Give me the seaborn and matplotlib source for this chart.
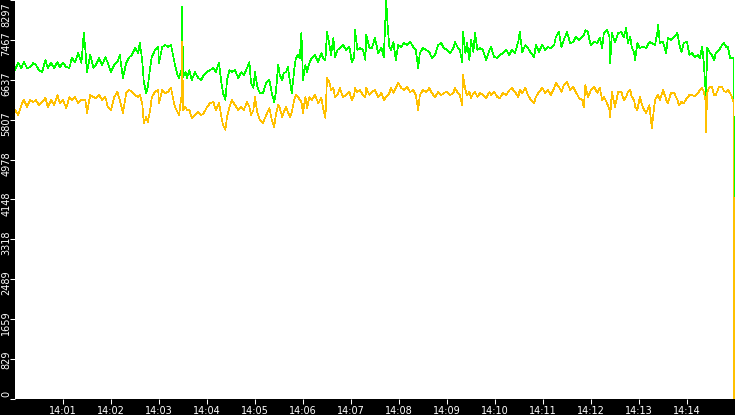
import numpy as np
import pandas as pd
import seaborn as sns
import matplotlib
matplotlib.use("Agg")
import matplotlib.pyplot as plt
from matplotlib.transforms import ScaledTranslation

# seconds after 14:00:00
secs = [0, 4, 8, 11, 15, 19, 23, 26, 30, 34,
        38, 41, 45, 49, 53, 56, 60, 64, 68, 71,
        75, 79, 83, 86, 88, 90, 94, 98, 101, 105,
        109, 113, 116, 120, 124, 128, 131, 135, 139, 143,
        146, 150, 154, 156, 159, 161, 164, 166, 169, 171,
        175, 179,
        180, 184, 188, 191, 195, 198, 200, 203, 205, 208,
        209, 210, 213, 215, 218, 221, 225, 229, 233, 236,
        240, 244, 248, 251, 255, 258, 260, 263, 265, 268,
        271, 275, 279, 283, 286, 290, 293, 295, 298, 300,
        303, 306, 310, 314, 318, 321, 324, 326, 329, 331,
        334, 336, 339, 341, 344, 346, 349, 351, 354, 356,
        358,
        360, 363, 365, 368, 371, 375, 379, 383, 385, 388,
        390, 393, 395, 398, 400, 403, 406, 410, 414, 418,
        421, 424, 425, 428, 431, 435, 438, 439, 443, 446,
        450, 454, 458, 461, 464, 466, 468, 470, 473, 476,
        479, 483, 486, 490, 494, 498, 501, 504, 506, 510,
        514, 518, 521, 525, 529, 533, 536,
        540, 544, 548, 550, 553, 556, 559, 560, 563, 565,
        568, 570, 573, 575, 578, 581, 585, 589, 593, 595,
        599, 603, 606, 610, 614, 618, 621, 625, 629, 631,
        634, 638, 641, 645, 649, 651, 655, 659, 663, 666,
        670, 674, 676, 680, 683, 686, 690, 694, 698, 701,
        705, 709, 711, 713, 716, 719,
        720, 724, 728, 731, 734, 736, 740, 743, 744, 746,
        750, 754, 758, 761, 764, 766, 769, 771, 774, 775,
        778, 781, 785, 789, 793, 796, 800, 803, 804, 806,
        810, 813, 814, 816, 820, 824, 828, 830, 833, 836,
        840, 843, 846, 850, 854, 856, 859, 861, 863, 864,
        865, 868, 871, 874, 876, 880, 884, 886, 889, 891,
        894, 896, 898, 899]

green_vals = [6841, 6987, 6883, 7008, 6883, 6904, 6987, 6945, 6841, 6800,
              7049, 6883, 6987, 6883, 7008, 6904, 6987, 6904, 6883, 7091,
              7008, 7195, 6987, 7611, 7257, 6800, 7153, 6883, 6945, 7091,
              6945, 7112, 6987, 6800, 6945, 7008, 7153, 6675, 6987, 7112,
              7153, 7299, 7195, 7403, 7049, 6592, 6363, 6488, 6904, 7112,
              7257, 7320,
              6987, 7320, 7361, 7320, 7361, 7112, 6945, 6737, 6675, 6841,
              8151, 6696, 6800, 6675, 6841, 6633, 6800, 6675, 6633, 6737,
              6800, 6841, 6883, 6800, 6987, 6571, 6363, 6218, 6633, 6841,
              6800, 6841, 6675, 6800, 6737, 6883, 7008, 6571, 6467, 6800,
              6488, 6363, 6363, 6571, 6633, 6363, 6176, 6363, 6945, 6737,
              6633, 6779, 6800, 6904, 6571, 6363, 6841, 7091, 7153, 7091,
              7611,
              6633, 6945, 6800, 6987, 7091, 7153, 7008, 7195, 7091, 7049,
              7632, 7361, 7153, 7507, 7112, 7257, 7299, 7361, 7257, 7320,
              7008, 7112, 7673, 7257, 7299, 7257, 7049, 7569, 7299, 7299,
              7507, 7195, 7299, 7112, 8297, 7714, 7320, 7257, 7424, 7049,
              7361, 7320, 7403, 7361, 7424, 7320, 7257, 6883, 7195, 7299,
              7257, 7216, 7091, 7153, 7361, 7403, 7299,
              7257, 7195, 7299, 7424, 7320, 7257, 7008, 7632, 7195, 7403,
              7049, 7465, 7216, 7611, 7257, 7299, 7257, 7049, 7257, 7320,
              7112, 7091, 7153, 7195, 7257, 7153, 7257, 7195, 7424, 7632,
              7216, 7361, 7299, 7195, 7112, 7361, 7216, 7361, 7257, 7320,
              7299, 7361, 7528, 7632, 7320, 7465, 7632, 7403, 7424, 7528,
              7465, 7528, 7569, 7673, 7632, 7403,
              7361, 7424, 7403, 7507, 7299, 7611, 7673, 7528, 6987, 7611,
              7424, 7611, 7632, 7528, 7714, 7403, 7528, 7320, 7195, 7049,
              7403, 7299, 7320, 7299, 7424, 7403, 7361, 7632, 7777, 7403,
              7424, 7257, 7195, 7507, 7465, 7528, 7611, 7403, 7216, 7403,
              7424, 7153, 7195, 7112, 7153, 7091, 7320, 6987, 6488, 6218,
              7299, 7216, 7153, 7049, 7195, 7257, 7361, 7403, 7320, 7320,
              7091, 7091, 7091, 3306]

yellow_vals = [6010, 5906, 6113, 6218, 6072, 6218, 6176, 6218, 6113, 6176,
               6259, 6072, 6218, 6113, 6321, 6155, 6218, 6051, 6280, 6218,
               6280, 6155, 6218, 6218, 6218, 5947, 6321, 6280, 6259, 6321,
               6218, 6280, 6072, 6010, 6280, 6384, 6218, 5947, 6363, 6425,
               6384, 6321, 6280, 6321, 6155, 5739, 5864, 5760, 6010, 6280,
               6384, 6425,
               6155, 6425, 6363, 6384, 6467, 6218, 6072, 5968, 5906, 6280,
               7424, 6010, 6072, 6010, 6010, 5843, 5906, 5968, 5906, 5947,
               6072, 6155, 6176, 6010, 6155, 5864, 5698, 5594, 5864, 6072,
               6218, 6113, 6010, 6072, 6010, 6176, 6072, 5906, 6010, 6280,
               5947, 5802, 5739, 5906, 6051, 5802, 5656, 5906, 6113, 6051,
               5864, 5968, 6072, 5968, 5864, 5968, 6218, 6321, 6280, 6218,
               6176,
               5947, 6280, 6051, 6280, 6218, 6321, 6155, 6259, 6051, 5843,
               6675, 6592, 6425, 6467, 6280, 6321, 6467, 6280, 6321, 6384,
               6218, 6321, 6467, 6384, 6425, 6321, 6280, 6467, 6321, 6384,
               6425, 6280, 6363, 6218, 6280, 6321, 6363, 6467, 6363, 6467,
               6571, 6467, 6425, 6488, 6384, 6425, 6321, 6010, 6321, 6425,
               6384, 6467, 6363, 6280, 6384, 6321, 6363,
               6384, 6321, 6363, 6467, 6384, 6321, 6113, 6737, 6425, 6321,
               6384, 6259, 6363, 6384, 6280, 6363, 6321, 6259, 6384, 6321,
               6384, 6280, 6259, 6363, 6321, 6425, 6467, 6384, 6280, 6425,
               6363, 6467, 6321, 6218, 6155, 6280, 6384, 6467, 6363, 6425,
               6321, 6467, 6571, 6488, 6384, 6529, 6592, 6425, 6488, 6384,
               6259, 6218, 6072, 6529, 6280, 6384,
               6425, 6488, 6363, 6467, 6218, 6280, 6155, 6010, 5864, 6384,
               6072, 6384, 6384, 6218, 6280, 6384, 6425, 6280, 6218, 6072,
               6010, 6280, 6051, 5947, 6113, 5635, 6218, 6301, 6321, 6218,
               6425, 6280, 6218, 6155, 6363, 6363, 6218, 6113, 6176, 6155,
               6259, 6321, 6321, 6301, 6363, 6425, 6467, 6384, 6218, 5552,
               6363, 6488, 6488, 6321, 6321, 6488, 6488, 6405, 6384, 6425,
               6363, 6280, 6176, 0]

y_tick_labels = ["0", "829", "1659", "2489", "3318", "4148",
                 "4978", "5807", "6637", "7467", "8297"]
x_tick_labels = ["14:01", "14:02", "14:03", "14:04", "14:05", "14:06", "14:07",
                 "14:08", "14:09", "14:10", "14:11", "14:12", "14:13", "14:14"]

ymax = 8297.1
start = pd.Timestamp("2021-01-01 14:00:00")
times = start + pd.to_timedelta(secs, unit="s")
n = len(secs)
df = pd.DataFrame({
    "time": list(times) * 2,
    "value": green_vals + yellow_vals,
    "series": ["green"] * n + ["yellow"] * n,
})

sns.set_style("white")
plt.rcParams["font.family"] = ["DejaVu Sans"]

fig = plt.figure(figsize=(7.35, 4.15), dpi=100, facecolor="black")
ax = fig.add_axes([15 / 735, 16 / 415, 720 / 735, 399 / 415])
ax.set_facecolor("white")

sns.lineplot(data=df, x="time", y="value", hue="series",
             palette={"green": "#00ff00", "yellow": "#ffc000"},
             linewidth=0.5, estimator=None, legend=False, ax=ax,
             antialiased=False)

ax.set_xlim(start, start + pd.Timedelta(minutes=15))
ax.set_ylim(0, ymax)
for s in ax.spines.values():
    s.set_visible(False)
ax.grid(False)
ax.set_xlabel("")
ax.set_ylabel("")

ax.set_xticks([start + pd.Timedelta(minutes=m) for m in range(1, 15)])
ax.set_xticklabels(x_tick_labels)
ax.set_yticks(np.linspace(0, ymax, 11))
ax.set_yticklabels(y_tick_labels, rotation=90, rotation_mode="anchor",
                   ha="right", va="center")

ax.tick_params(axis="both", colors="white", labelsize=7, length=3.6,
               width=0.75, direction="out", left=True, bottom=True)
ax.tick_params(axis="x", pad=1.2)
ax.tick_params(axis="y", pad=2.6)

# labels sit a little above their tick, the top one is pushed down to fit
shift = ScaledTranslation(0, 0.085, fig.dpi_scale_trans)
top_shift = ScaledTranslation(0, -0.02, fig.dpi_scale_trans)
labels = ax.get_yticklabels()
for lab in labels[:-1]:
    lab.set_transform(lab.get_transform() + shift)
labels[-1].set_transform(labels[-1].get_transform() + top_shift)

fig.savefig("out.png", dpi=100, facecolor="black")
